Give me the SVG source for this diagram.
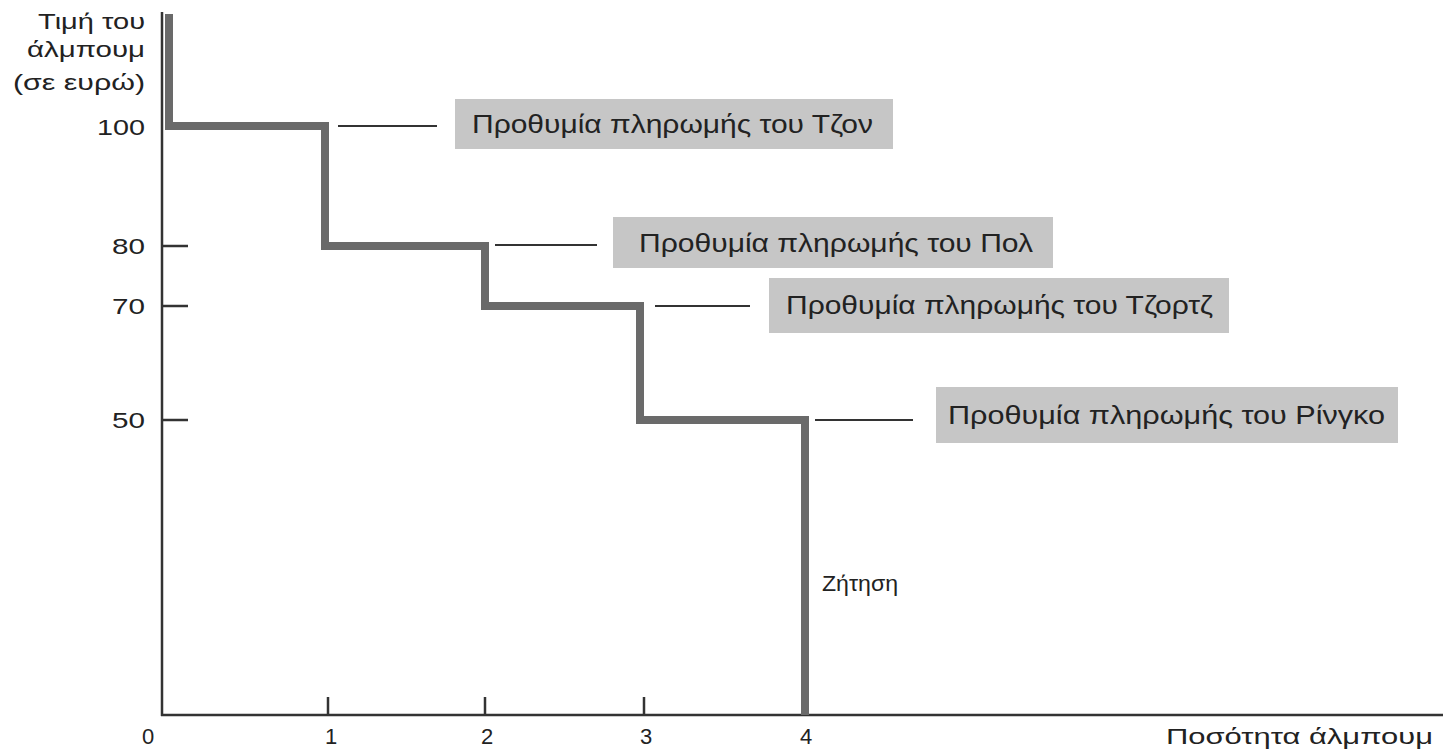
<svg xmlns="http://www.w3.org/2000/svg" width="1448" height="749" viewBox="0 0 1448 749">
<style>
.t{font-family:"Liberation Sans","DejaVu Sans",sans-serif;fill:#222;}
.ax{font-size:22px;}
.box{fill:#c6c6c6;}
.lbl{font-size:25px;}
.thin{stroke:#333;stroke-width:2.5;fill:none;}
.lead{stroke:#333;stroke-width:2;fill:none;}
.dem{stroke:#6a6a6a;stroke-width:8;fill:none;stroke-linejoin:miter;stroke-linecap:butt;}
</style>
<rect width="1448" height="749" fill="#ffffff"/>
<g id="axes">
<line class="thin" x1="162" y1="12" x2="162" y2="716"/>
<line class="thin" x1="161" y1="715" x2="1443" y2="715"/>
<line class="thin" x1="162" y1="246" x2="188" y2="246"/>
<line class="thin" x1="162" y1="306" x2="188" y2="306"/>
<line class="thin" x1="162" y1="420" x2="188" y2="420"/>
<line class="thin" x1="328" y1="697" x2="328" y2="715"/>
<line class="thin" x1="485" y1="697" x2="485" y2="715"/>
<line class="thin" x1="644" y1="697" x2="644" y2="715"/>
</g>
<g id="axis-labels" class="t ax">
<text x="38" y="29" textLength="107" lengthAdjust="spacingAndGlyphs">Τιμή του</text>
<text x="27" y="57" textLength="118" lengthAdjust="spacingAndGlyphs">άλμπουμ</text>
<text x="13" y="90" textLength="132" lengthAdjust="spacingAndGlyphs">(σε ευρώ)</text>
<text x="97" y="135" textLength="48" lengthAdjust="spacingAndGlyphs">100</text>
<text x="112" y="254" textLength="33" lengthAdjust="spacingAndGlyphs">80</text>
<text x="112" y="314" textLength="33" lengthAdjust="spacingAndGlyphs">70</text>
<text x="112" y="428" textLength="33" lengthAdjust="spacingAndGlyphs">50</text>
<text x="148" y="744" text-anchor="middle">0</text>
<text x="331" y="744" text-anchor="middle">1</text>
<text x="487" y="744" text-anchor="middle">2</text>
<text x="646" y="744" text-anchor="middle">3</text>
<text x="806" y="744" text-anchor="middle">4</text>
<text x="1166" y="744" textLength="267" lengthAdjust="spacingAndGlyphs">Ποσότητα άλμπουμ</text>
</g>
<g id="demand">
<polyline class="dem" points="169,14 169,126 325,126 325,246 485,246 485,306 640,306 640,420 805,420 805,715"/>
<text class="t ax" x="822" y="591" textLength="76" lengthAdjust="spacingAndGlyphs">Ζήτηση</text>
</g>
<g id="connectors">
<line class="lead" x1="338" y1="126" x2="437" y2="126"/>
<line class="lead" x1="495" y1="245" x2="597" y2="245"/>
<line class="lead" x1="655" y1="306" x2="750" y2="306"/>
<line class="lead" x1="815" y1="420" x2="913" y2="420"/>
</g>
<g id="node-john">
<rect class="box" x="455" y="99" width="438" height="50"/>
<text class="t lbl" x="472" y="133" textLength="401" lengthAdjust="spacingAndGlyphs">Προθυμία πληρωμής του Τζον</text>
</g>
<g id="node-paul">
<rect class="box" x="613" y="217" width="440" height="51"/>
<text class="t lbl" x="639" y="252" textLength="394" lengthAdjust="spacingAndGlyphs">Προθυμία πληρωμής του Πολ</text>
</g>
<g id="node-george">
<rect class="box" x="769" y="278" width="460" height="55"/>
<text class="t lbl" x="786" y="314" textLength="427" lengthAdjust="spacingAndGlyphs">Προθυμία πληρωμής του Τζορτζ</text>
</g>
<g id="node-ringo">
<rect class="box" x="936" y="387" width="462" height="56"/>
<text class="t lbl" x="948" y="424" textLength="437" lengthAdjust="spacingAndGlyphs">Προθυμία πληρωμής του Ρίνγκο</text>
</g>
</svg>
